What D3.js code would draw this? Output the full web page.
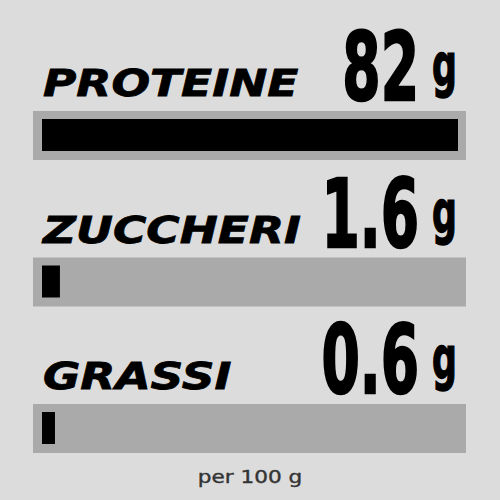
<!DOCTYPE html>
<html>
<head>
<meta charset="utf-8">
<script src="https://cdn.jsdelivr.net/npm/d3@7"></script>
<style>
  html, body { margin: 0; padding: 0; background: #dcdcdc; }
</style>
</head>
<body>
<div id="chart"></div>
<script>
// données (valeurs nutritionnelles)
const nutrienti = ["PROTEINE", "ZUCCHERI", "GRASSI"];
const valori = [82, 1.6, 0.6];
const etichetteValori = ["82", "1.6", "0.6"];
const unita = "g";
const nota = "per 100 g";

const width = 500, height = 500;

const svg = d3.select('#chart')
    .append('svg')
    .attr('width', width)
    .attr('height', height);

svg.append('rect')
    .attr('width', width)
    .attr('height', height)
    .attr('fill', '#dcdcdc');

// barre: cadre gris puis barre noire
const barLeft = 33, barWidth = 433, barHeight = 49, pad = 8;

const y = d3.scalePoint()
    .domain(nutrienti)
    .range([111, 404]);

// largeur minimale de 10px, puis linéaire
const x = d3.scaleLinear()
    .domain([0, d3.max(valori)])
    .range([10, barWidth - 2 * pad - 1]);

const rows = svg.append('g')
    .selectAll('g')
    .data(nutrienti)
    .join('g')
    .attr('transform', d => `translate(0,${y(d)})`);

rows.append('rect')
    .attr('x', barLeft)
    .attr('y', 0)
    .attr('width', barWidth)
    .attr('height', barHeight)
    .attr('fill', '#aaaaaa');

rows.append('rect')
    .attr('x', barLeft + pad + 1)
    .attr('y', pad)
    .attr('width', (d, i) => x(valori[i]))
    .attr('height', barHeight - 2 * pad - 1)
    .attr('fill', '#000');

// nom du nutriment (italique, élargi)
rows.append('text')
    .attr('transform', 'translate(43,-15) scale(1.23,1)')
    .attr('font-family', 'DejaVu Sans')
    .attr('font-weight', 'bold')
    .attr('font-style', 'italic')
    .attr('font-size', 37)
    .attr('fill', '#000')
    .attr('stroke', '#000')
    .attr('stroke-width', 0.8)
    .text(d => d);

// valeur (condensée)
rows.append('text')
    .attr('transform', 'translate(419,-11) scale(0.58,1)')
    .attr('text-anchor', 'end')
    .attr('font-family', 'DejaVu Sans')
    .attr('font-weight', 'bold')
    .attr('font-size', 95)
    .attr('fill', '#000')
    .attr('stroke', '#000')
    .attr('stroke-width', 2.5)
    .text((d, i) => etichetteValori[i]);

rows.append('text')
    .attr('transform', 'translate(457,-25) scale(0.6,1)')
    .attr('text-anchor', 'end')
    .attr('font-family', 'DejaVu Sans')
    .attr('font-weight', 'bold')
    .attr('font-size', 58)
    .attr('fill', '#000')
    .attr('stroke', '#000')
    .attr('stroke-width', 1.5)
    .text(unita);

// note en bas
svg.append('text')
    .attr('transform', 'translate(250,483) scale(1.2,1)')
    .attr('text-anchor', 'middle')
    .attr('font-family', 'DejaVu Sans')
    .attr('font-size', 18)
    .attr('fill', '#333')
    .attr('stroke', '#333')
    .attr('stroke-width', 0.4)
    .text(nota);
</script>
</body>
</html>
